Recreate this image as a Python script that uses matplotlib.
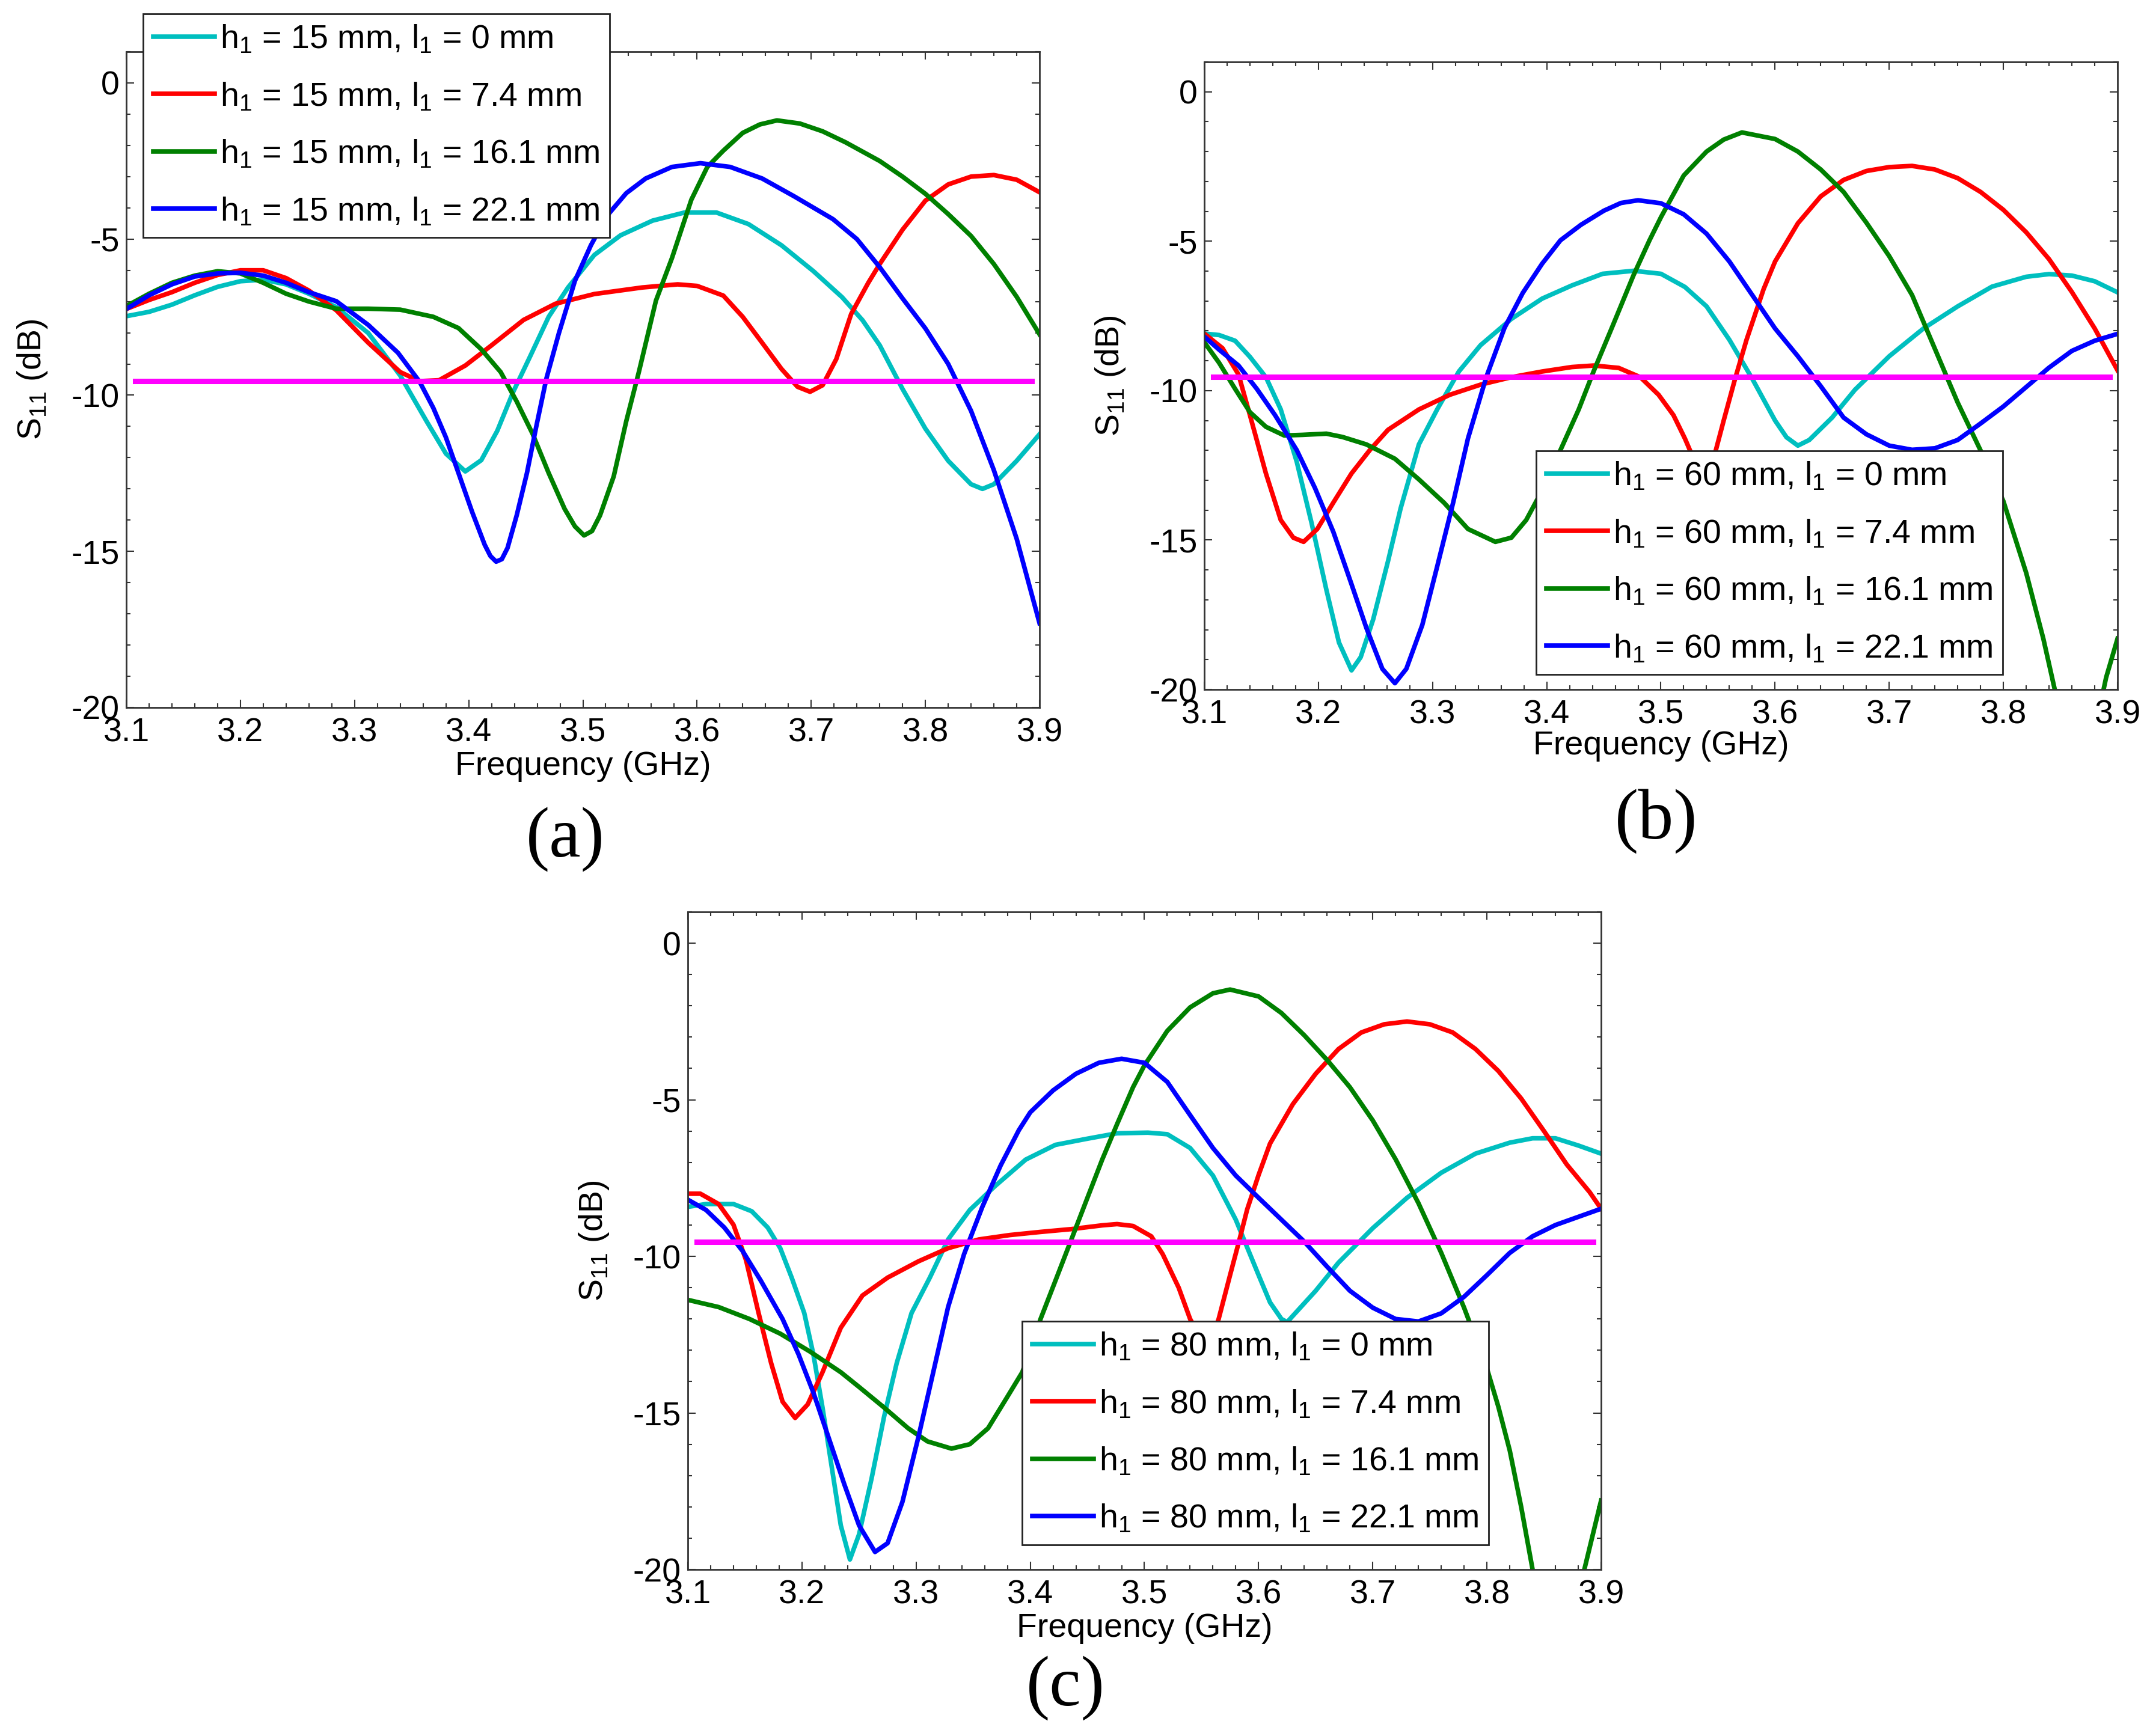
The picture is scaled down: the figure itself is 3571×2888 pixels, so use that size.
import matplotlib
matplotlib.use('Agg')
import matplotlib.pyplot as plt
from matplotlib.ticker import MultipleLocator

plt.rcParams['font.family'] = ['Liberation Sans', 'DejaVu Sans']
plt.rcParams['mathtext.fontset'] = 'custom'
plt.rcParams['mathtext.rm'] = 'Liberation Sans'
plt.rcParams['axes.unicode_minus'] = False

W, H = 3571, 2888

# ---------------- panel (a), h1 = 15 mm ----------------
a_cyan_f = [3.10, 3.12, 3.14, 3.16, 3.18, 3.20, 3.22, 3.24, 3.26, 3.284, 3.312, 3.340, 3.363, 3.380,
            3.397, 3.411, 3.425, 3.439, 3.454, 3.470, 3.487, 3.510, 3.533, 3.561, 3.589, 3.617, 3.645,
            3.674, 3.702, 3.727, 3.745, 3.76, 3.78, 3.80, 3.82, 3.84, 3.85, 3.86, 3.88, 3.90]
a_cyan_s = [-7.47, -7.33, -7.1, -6.8, -6.53, -6.35, -6.3, -6.45, -6.75, -7.18, -8.01, -9.37, -10.83, -11.87,
            -12.44, -12.08, -11.14, -9.89, -8.74, -7.49, -6.55, -5.51, -4.88, -4.41, -4.15, -4.15, -4.52,
            -5.2, -6.03, -6.86, -7.6, -8.4, -9.8, -11.07, -12.1, -12.85, -13.0, -12.85, -12.1, -11.25]

a_red_f = [3.10, 3.12, 3.14, 3.16, 3.18, 3.20, 3.22, 3.24, 3.26, 3.284, 3.312, 3.340, 3.357, 3.374,
           3.397, 3.419, 3.448, 3.476, 3.510, 3.552, 3.583, 3.600, 3.623, 3.640, 3.657, 3.674, 3.688,
           3.699, 3.710, 3.722, 3.735, 3.75, 3.76, 3.78, 3.80, 3.82, 3.84, 3.86, 3.88, 3.90]
a_red_s = [-7.24, -6.95, -6.7, -6.4, -6.15, -6.0, -6.0, -6.25, -6.65, -7.28, -8.32, -9.26, -9.55, -9.52,
           -9.05, -8.43, -7.59, -7.07, -6.76, -6.55, -6.45, -6.5, -6.81, -7.49, -8.32, -9.16, -9.73,
           -9.89, -9.68, -8.84, -7.4, -6.4, -5.8, -4.7, -3.77, -3.25, -3.0, -2.95, -3.1, -3.5]

a_green_f = [3.10, 3.12, 3.14, 3.16, 3.18, 3.20, 3.22, 3.24, 3.26, 3.284, 3.312, 3.340, 3.369, 3.391,
             3.411, 3.428, 3.442, 3.456, 3.470, 3.484, 3.493, 3.501, 3.508, 3.515, 3.527, 3.538, 3.549,
             3.564, 3.578, 3.595, 3.609, 3.623, 3.64, 3.655, 3.67, 3.69, 3.71, 3.73, 3.76, 3.78, 3.80,
             3.82, 3.84, 3.86, 3.88, 3.90]
a_green_s = [-7.15, -6.75, -6.4, -6.17, -6.03, -6.1, -6.4, -6.75, -7.0, -7.23, -7.23, -7.26, -7.49, -7.85,
             -8.53, -9.26, -10.2, -11.24, -12.49, -13.64, -14.2, -14.49, -14.35, -13.85, -12.6, -10.83, -9.26,
             -6.97, -5.61, -3.74, -2.69, -2.17, -1.6, -1.33, -1.2, -1.3, -1.55, -1.9, -2.5, -3.0, -3.55,
             -4.2, -4.9, -5.8, -6.85, -8.05]

a_blue_f = [3.10, 3.12, 3.14, 3.16, 3.18, 3.20, 3.22, 3.24, 3.26, 3.284, 3.312, 3.338, 3.357, 3.369,
            3.380, 3.391, 3.403, 3.414, 3.419, 3.424, 3.429, 3.434, 3.442, 3.451, 3.459, 3.468, 3.479,
            3.493, 3.507, 3.521, 3.538, 3.555, 3.578, 3.603, 3.629, 3.657, 3.685, 3.719, 3.74, 3.76,
            3.78, 3.80, 3.82, 3.84, 3.86, 3.88, 3.90]
a_blue_s = [-7.24, -6.8, -6.45, -6.2, -6.1, -6.08, -6.17, -6.4, -6.7, -6.99, -7.75, -8.64, -9.57, -10.41,
            -11.35, -12.49, -13.74, -14.79, -15.15, -15.33, -15.25, -14.89, -13.85, -12.49, -11.03, -9.47, -8.01,
            -6.34, -5.2, -4.26, -3.53, -3.06, -2.69, -2.57, -2.69, -3.06, -3.63, -4.36, -5.0, -5.9,
            -6.9, -7.86, -9.0, -10.5, -12.4, -14.6, -17.3]

# ---------------- panel (b), h1 = 60 mm ----------------
b_cyan_f = [3.100, 3.113, 3.127, 3.140, 3.154, 3.167, 3.181, 3.194, 3.207, 3.218, 3.229, 3.237, 3.248,
            3.261, 3.272, 3.288, 3.304, 3.323, 3.342, 3.369, 3.396, 3.422, 3.449, 3.476, 3.500, 3.521,
            3.54, 3.56, 3.58, 3.60, 3.61, 3.62, 3.63, 3.65, 3.67, 3.70, 3.73, 3.76, 3.79, 3.82, 3.84,
            3.86, 3.88, 3.90]
b_cyan_s = [-8.09, -8.14, -8.33, -8.87, -9.55, -10.63, -12.38, -14.43, -16.67, -18.43, -19.36, -18.92, -17.65,
            -15.7, -13.94, -11.8, -10.63, -9.36, -8.48, -7.6, -6.92, -6.48, -6.09, -5.99, -6.09, -6.53,
            -7.18, -8.3, -9.6, -11.0, -11.56, -11.84, -11.65, -10.9, -9.97, -8.85, -7.92, -7.18, -6.52, -6.19, -6.1,
            -6.15, -6.34, -6.71]

b_red_f = [3.100, 3.116, 3.130, 3.140, 3.154, 3.167, 3.178, 3.187, 3.199, 3.213, 3.229, 3.245, 3.261,
           3.288, 3.315, 3.342, 3.369, 3.396, 3.422, 3.441, 3.463, 3.482, 3.498, 3.511, 3.521, 3.53,
           3.538, 3.546, 3.555, 3.565, 3.575, 3.59, 3.60, 3.62, 3.64, 3.66, 3.68, 3.70, 3.72, 3.74,
           3.76, 3.78, 3.80, 3.82, 3.84, 3.86, 3.88, 3.90]
b_red_s = [-8.09, -8.58, -9.46, -10.82, -12.77, -14.33, -14.92, -15.06, -14.63, -13.75, -12.77, -11.99, -11.31,
           -10.63, -10.14, -9.8, -9.55, -9.36, -9.21, -9.16, -9.24, -9.55, -10.14, -10.82, -11.6, -12.4,
           -13.0, -12.3, -11.0, -9.6, -8.3, -6.6, -5.68, -4.4, -3.5, -2.95, -2.65, -2.52, -2.48, -2.6,
           -2.89, -3.35, -3.95, -4.7, -5.6, -6.7, -7.92, -9.32]

b_green_f = [3.100, 3.113, 3.127, 3.140, 3.154, 3.170, 3.186, 3.207, 3.221, 3.242, 3.267, 3.288, 3.310,
             3.331, 3.355, 3.369, 3.382, 3.393, 3.40, 3.412, 3.428, 3.441, 3.457, 3.476, 3.490, 3.50,
             3.52, 3.54, 3.555, 3.571, 3.60, 3.62, 3.64, 3.66, 3.68, 3.70, 3.72, 3.74, 3.76, 3.78,
             3.80, 3.82, 3.835, 3.845, 3.86, 3.875, 3.89, 3.90]
b_green_s = [-8.38, -9.07, -9.94, -10.72, -11.21, -11.5, -11.48, -11.44, -11.55, -11.8, -12.28, -12.97, -13.75,
             -14.63, -15.06, -14.92, -14.33, -13.55, -13.0, -11.99, -10.63, -9.36, -7.9, -6.14, -4.97, -4.2,
             -2.8, -2.0, -1.6, -1.36, -1.58, -2.0, -2.6, -3.35, -4.38, -5.5, -6.8, -8.6, -10.4, -12.0,
             -13.7, -16.1, -18.3, -20.0, -22.0, -22.3, -19.6, -18.3]

b_blue_f = [3.100, 3.113, 3.130, 3.146, 3.162, 3.181, 3.197, 3.213, 3.229, 3.242, 3.256, 3.267, 3.277,
            3.291, 3.304, 3.318, 3.331, 3.347, 3.363, 3.379, 3.396, 3.412, 3.43, 3.45, 3.465, 3.48,
            3.50, 3.52, 3.54, 3.56, 3.58, 3.60, 3.62, 3.64, 3.66, 3.68, 3.70, 3.72, 3.74, 3.76, 3.78,
            3.80, 3.82, 3.84, 3.86, 3.88, 3.90]
b_blue_s = [-8.19, -8.63, -9.16, -9.94, -10.82, -11.99, -13.26, -14.72, -16.48, -17.94, -19.31, -19.79, -19.31,
            -17.84, -15.89, -13.75, -11.6, -9.55, -7.9, -6.73, -5.75, -4.97, -4.45, -3.98, -3.72, -3.63,
            -3.73, -4.1, -4.75, -5.68, -6.8, -7.92, -8.85, -9.85, -10.9, -11.46, -11.84, -11.98, -11.93, -11.65, -11.1,
            -10.53, -9.88, -9.23, -8.67, -8.33, -8.1]

# ---------------- panel (c), h1 = 80 mm ----------------
c_cyan_f = [3.100, 3.116, 3.140, 3.156, 3.170, 3.181, 3.191, 3.202, 3.210, 3.218, 3.226, 3.234, 3.242,
            3.250, 3.261, 3.272, 3.283, 3.296, 3.312, 3.328, 3.347, 3.369, 3.396, 3.422, 3.449, 3.476,
            3.503, 3.52, 3.54, 3.56, 3.58, 3.60, 3.61, 3.62, 3.625, 3.63, 3.65, 3.67, 3.70, 3.73,
            3.76, 3.79, 3.82, 3.84, 3.86, 3.88, 3.90]
c_cyan_s = [-8.42, -8.33, -8.33, -8.56, -9.08, -9.74, -10.68, -11.81, -13.13, -14.83, -16.71, -18.59, -19.68,
            -18.88, -17.09, -15.11, -13.41, -11.81, -10.68, -9.46, -8.52, -7.76, -6.91, -6.44, -6.25, -6.07,
            -6.05, -6.1, -6.54, -7.42, -8.83, -10.6, -11.47, -12.0, -12.1, -11.9, -11.1, -10.2, -9.1, -8.13,
            -7.33, -6.72, -6.37, -6.23, -6.23, -6.46, -6.72]

c_red_f = [3.100, 3.111, 3.127, 3.140, 3.151, 3.162, 3.173, 3.183, 3.194, 3.205, 3.218, 3.234, 3.253,
           3.275, 3.302, 3.328, 3.355, 3.382, 3.409, 3.436, 3.463, 3.476, 3.490, 3.506, 3.516, 3.53,
           3.54, 3.555, 3.565, 3.575, 3.583, 3.59, 3.60, 3.61, 3.63, 3.65, 3.67, 3.69, 3.71, 3.73,
           3.75, 3.77, 3.79, 3.81, 3.83, 3.85, 3.87, 3.89, 3.90]
c_red_s = [-8.0, -8.0, -8.33, -8.99, -10.12, -11.81, -13.41, -14.64, -15.16, -14.73, -13.7, -12.28, -11.25,
           -10.68, -10.16, -9.74, -9.46, -9.32, -9.22, -9.13, -9.01, -8.97, -9.03, -9.36, -9.93, -11.0,
           -12.0, -13.0, -12.0, -10.6, -9.5, -8.5, -7.4, -6.4, -5.14, -4.17, -3.38, -2.85, -2.59, -2.5,
           -2.59, -2.85, -3.38, -4.08, -4.96, -6.0, -7.07, -7.95, -8.48]

c_green_f = [3.100, 3.127, 3.154, 3.181, 3.207, 3.234, 3.250, 3.272, 3.293, 3.310, 3.331, 3.347, 3.363,
             3.379, 3.393, 3.40, 3.409, 3.422, 3.436, 3.449, 3.463, 3.476, 3.49, 3.50, 3.52, 3.54,
             3.56, 3.575, 3.60, 3.62, 3.64, 3.66, 3.68, 3.70, 3.72, 3.74, 3.76, 3.78, 3.80, 3.81,
             3.82, 3.83, 3.84, 3.85, 3.86, 3.87, 3.88, 3.89, 3.90]
c_green_s = [-11.39, -11.62, -12.0, -12.47, -13.04, -13.7, -14.17, -14.83, -15.49, -15.91, -16.14, -16.0, -15.49,
             -14.54, -13.7, -13.0, -12.0, -10.78, -9.46, -8.23, -6.91, -5.78, -4.6, -3.9, -2.8, -2.05,
             -1.6, -1.48, -1.7, -2.23, -2.94, -3.73, -4.6, -5.66, -6.9, -8.3, -9.89, -11.64, -13.58, -14.8,
             -16.2, -18.0, -20.0, -21.8, -22.5, -22.0, -20.8, -19.3, -17.8]

c_blue_f = [3.100, 3.116, 3.132, 3.148, 3.164, 3.183, 3.197, 3.210, 3.224, 3.237, 3.250, 3.264, 3.275,
            3.288, 3.302, 3.315, 3.328, 3.342, 3.358, 3.374, 3.390, 3.40, 3.42, 3.44, 3.46, 3.48,
            3.50, 3.52, 3.54, 3.56, 3.58, 3.60, 3.62, 3.64, 3.66, 3.68, 3.70, 3.72, 3.74, 3.76, 3.78,
            3.80, 3.82, 3.84, 3.86, 3.88, 3.90]
c_blue_s = [-8.19, -8.52, -9.08, -9.83, -10.78, -12.0, -13.13, -14.35, -15.86, -17.27, -18.59, -19.44, -19.16,
            -17.84, -15.77, -13.7, -11.62, -9.93, -8.42, -7.1, -5.97, -5.4, -4.7, -4.17, -3.82, -3.69,
            -3.82, -4.43, -5.49, -6.54, -7.42, -8.13, -8.83, -9.53, -10.33, -11.1, -11.64, -12.0, -12.08, -11.82, -11.29,
            -10.6, -9.89, -9.36, -9.0, -8.74, -8.48]

l1_values = ['0', '7.4', '16.1', '22.1']
colors = ['#00BFBF', '#FF0000', '#008000', '#0000FF']
ref_level = -9.54          # VSWR = 2 line
ref_span = [3.108, 3.893]


def px_box(left, top, right, bottom):
    return [left / W, 1 - bottom / H, (right - left) / W, (bottom - top) / H]


def draw_panel(ax, curves, h1, leg_xy, tag, tag_xy):
    for (f, s), l1, c in zip(curves, l1_values, colors):
        ax.plot(f, s, color=c, lw=5.5, solid_joinstyle='round',
                label=r'$\mathrm{h_1}$ = %s mm, $\mathrm{l_1}$ = %s mm' % (h1, l1))
    ax.plot(ref_span, [ref_level, ref_level], color='#FF00FF', lw=6.5)
    ax.set_xlim(3.1, 3.9)
    ax.set_ylim(-20, 1)
    ax.set_xticks([3.1, 3.2, 3.3, 3.4, 3.5, 3.6, 3.7, 3.8, 3.9])
    ax.set_yticks([-20, -15, -10, -5, 0])
    ax.xaxis.set_minor_locator(MultipleLocator(0.02))
    ax.yaxis.set_minor_locator(MultipleLocator(1))
    ax.tick_params(which='both', direction='in', top=True, right=True,
                   color='#333333', width=1.5, labelsize=40)
    ax.tick_params(which='major', length=9.5)
    ax.tick_params(which='minor', length=5)
    ax.tick_params(axis='x', pad=12)
    ax.tick_params(axis='y', pad=8)
    for sp in ax.spines.values():
        sp.set_linewidth(2)
        sp.set_color('#333333')
    ax.set_xlabel('Frequency (GHz)', fontsize=40, va='center')
    ax.set_ylabel(r'S$_{\mathrm{11}}$ (dB)', fontsize=40, va='center')
    ax.xaxis.set_label_coords(0.5, -0.09)
    ax.yaxis.set_label_coords(-0.103, 0.5)
    leg = ax.legend(loc='upper left', bbox_to_anchor=(leg_xy[0] / W, 1 - leg_xy[1] / H),
                    bbox_transform=fig.transFigure, borderaxespad=0, fontsize=40,
                    fancybox=False, framealpha=1, edgecolor='#222222',
                    handlelength=1.85, handletextpad=0.15, labelspacing=0.77, borderpad=0.3)
    leg.get_frame().set_linewidth(2)
    fig.text(tag_xy[0] / W, 1 - tag_xy[1] / H, tag, fontsize=85,
             family='Liberation Serif', ha='center', va='center')


fig = plt.figure(figsize=(W / 100, H / 100), dpi=100)
ax_a = fig.add_axes(px_box(210, 86, 1729, 1177))
ax_b = fig.add_axes(px_box(2003, 103, 3522, 1147))
ax_c = fig.add_axes(px_box(1144, 1517, 2663, 2611))

draw_panel(ax_a, [(a_cyan_f, a_cyan_s), (a_red_f, a_red_s), (a_green_f, a_green_s), (a_blue_f, a_blue_s)],
           '15', (238, 23), '(a)', (940, 1396))
draw_panel(ax_b, [(b_cyan_f, b_cyan_s), (b_red_f, b_red_s), (b_green_f, b_green_s), (b_blue_f, b_blue_s)],
           '60', (2555, 750), '(b)', (2755, 1366))
draw_panel(ax_c, [(c_cyan_f, c_cyan_s), (c_red_f, c_red_s), (c_green_f, c_green_s), (c_blue_f, c_blue_s)],
           '80', (1700, 2198), '(c)', (1772, 2808))

fig.savefig('out.png', dpi=100)
